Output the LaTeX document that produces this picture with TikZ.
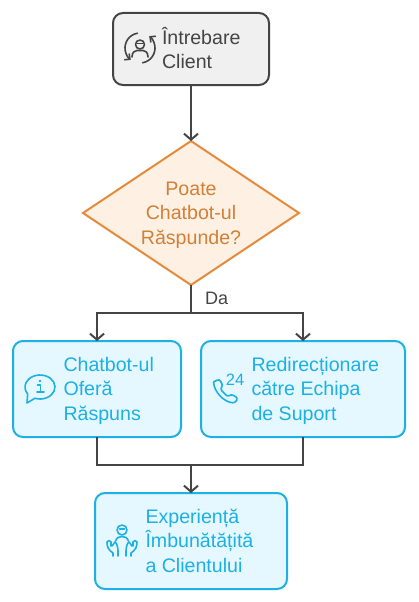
\documentclass[tikz,border=0pt]{standalone}
\usepackage{fontspec}
\setmainfont{Liberation Sans}
\usetikzlibrary{shapes.geometric,arrows.meta}
\definecolor{ink}{HTML}{444444}
\definecolor{grayfill}{HTML}{F0F0F0}
\definecolor{orangeline}{HTML}{E58A3B}
\definecolor{orangefill}{HTML}{FEF1E4}
\definecolor{blueline}{HTML}{1CB0E4}
\definecolor{bluefill}{HTML}{E5F8FF}
\tikzset{
  box/.style={rectangle,rounded corners=10pt,line width=2pt,outer sep=0pt,inner sep=0pt},
  graybox/.style={box,draw=ink,fill=grayfill},
  bluebox/.style={box,draw=blueline,fill=bluefill},
  txt/.style={anchor=north west,align=left,inner sep=0pt,outer sep=0pt,font=\fontsize{19.6}{24.5}\selectfont},
  bluetxt/.style={txt,text=blueline},
  conn/.style={draw=ink,line width=2pt},
  arr/.style={conn,-{Straight Barb[length=6pt,width=14pt,line width=2pt]}},
  ico/.style={line width=1.6pt,line cap=round,line join=round},
  tipb/.style={-{Straight Barb[length=4pt,width=8pt,line width=1.6pt]}}
}
\begin{document}
\begin{tikzpicture}[x=1pt,y=-1pt]
\useasboundingbox (0,0) rectangle (418,602);
\node[graybox,minimum width=156pt,minimum height=72pt] (top) at (191,49) {};
\node[diamond,draw=orangeline,fill=orangefill,line width=2pt,outer sep=0pt,inner sep=0pt,aspect=1.5,minimum width=216pt,minimum height=144pt] (q) at (191,213) {};
\node[align=center,inner sep=0pt,text=orangeline!92!black,font=\fontsize{19.6}{24.5}\selectfont] (qt) at (191,215) {Poate\\Chatbot-ul\\Răspunde?};
\node[bluebox,minimum width=168pt,minimum height=96pt] (a) at (97,389) {};
\node[bluebox,minimum width=204pt,minimum height=96pt] (b) at (303,389) {};
\node[bluebox,minimum width=192pt,minimum height=96pt] (c) at (191,541) {};
\coordinate (split) at (191,313);
\coordinate (merge) at (191,465);
\draw[arr] (top.south) -- (q.north);
\draw[conn] (q.south) -- (split);
\draw[arr] (split) -| (a.north);
\draw[arr] (split) -| (b.north);
\draw[conn] (a.south) |- (merge);
\draw[conn] (b.south) |- (merge);
\draw[arr] (merge) -- (c.north);
\node[txt,text=ink] (t0) at (162,27) {Întrebare\\Client};
\node[bluetxt] (t1) at (63.5,357) {Chatbot-ul\\Oferă\\Răspuns};
\node[bluetxt] (t2) at (251.5,357) {Redirecționare\\către Echipa\\de Suport};
\node[bluetxt] (t3) at (145.5,509) {Experiență\\Îmbunătățită\\a Clientului};
\node[anchor=west,inner sep=0pt,text=ink,font=\fontsize{18}{18}\selectfont] (da) at (205,298) {Da};
% icon: person with circular arrows
\begin{scope}[ico,draw=ink]
\draw[tipb] ([shift={(140,48)}]100:15pt) arc[start angle=100,end angle=232,radius=15pt];
\draw[tipb] ([shift={(140,48)}]280:15pt) arc[start angle=280,end angle=412,radius=15pt];
\draw (140,44.5) circle[radius=4.5pt];
\draw[line width=1.1pt] (137.5,43.5) -- (142.5,43.5);
\draw (132,57) .. controls (132,52) and (135,50.5) .. (137,50.5) -- (143,50.5) .. controls (145,50.5) and (148,52) .. (148,57);
\end{scope}
% icon: speech bubble with i
\begin{scope}[ico,draw=blueline]
\draw ([shift={(40,387)}]250:15pt and 12pt) arc[start angle=250,end angle=575,x radius=15pt,y radius=12pt] -- (27,403) -- cycle;
\fill[blueline] (40,381) circle[radius=1.3pt];
\draw (37.5,385) -- (40.5,385) -- (40.5,392);
\draw (37,392) -- (44,392);
\end{scope}
% icon: phone 24
\begin{scope}[ico,draw=blueline]
\draw[rounded corners=2.5pt] (213.5,382) -- (219.5,379) -- (223,386) -- (220,389) -- (228,397) -- (231,394) -- (238,398) -- (235,403) .. controls (224,402) and (214,392) .. (213.5,382);
\node[inner sep=0pt,text=blueline,font=\fontsize{16.5}{16.5}\selectfont] (n24) at (235,379.5) {24};
\end{scope}
% icon: person over hands
\begin{scope}[ico,draw=blueline]
\draw (122,530) circle[radius=5pt];
\draw[line width=1.1pt] (119.5,529) -- (124.5,529);
\draw (115.5,541) .. controls (117,537.5) and (119,536.5) .. (122,536.5) .. controls (125,536.5) and (127,537.5) .. (128.5,541);
\draw (113,556) -- (113,553) .. controls (108,550) and (107,546) .. (107,542) .. controls (108,540) and (110,540) .. (111,542) -- (111,546);
\draw (112,546) -- (115,542) .. controls (117,543) and (118,548) .. (118,551) -- (118,556);
\draw (131,556) -- (131,553) .. controls (136,550) and (137,546) .. (137,542) .. controls (136,540) and (134,540) .. (133,542) -- (133,546);
\draw (132,546) -- (129,542) .. controls (127,543) and (126,548) .. (126,551) -- (126,556);
\end{scope}
\end{tikzpicture}
\end{document}
